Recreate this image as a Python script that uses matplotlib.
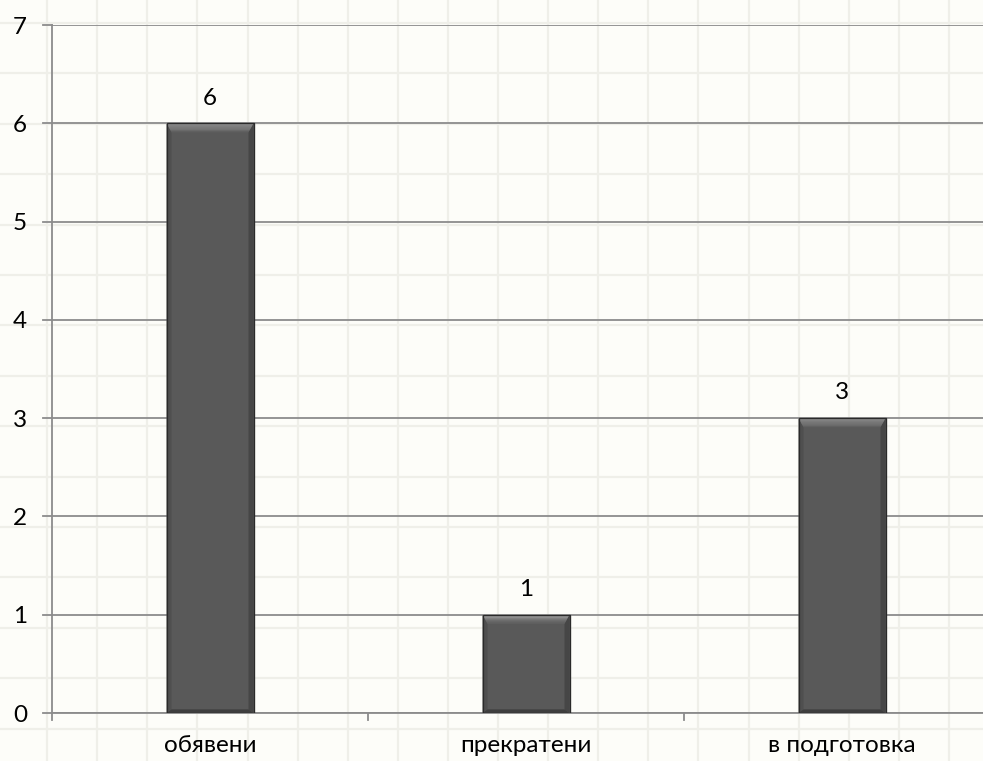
import matplotlib
matplotlib.use("Agg")
import matplotlib.pyplot as plt
from matplotlib.patches import Polygon, Rectangle
from matplotlib.lines import Line2D
import numpy as np

categories = ["обявени", "прекратени", "в подготовка"]
values = [6, 1, 3]
yticks = [0, 1, 2, 3, 4, 5, 6, 7]

W, H = 983, 761
DPI = 100
plt.rcParams['font.family'] = ['Lato', 'DejaVu Sans']

fig = plt.figure(figsize=(W / DPI, H / DPI), dpi=DPI, facecolor="#fdfdf9")

# paper-like background grid (figure pixel coords)
for x in np.arange(-3, W + 50, 50.1):
    fig.add_artist(Line2D([x / W, x / W], [0, 1], transform=fig.transFigure,
                          color="#efefe9", lw=1.6, zorder=0))
for y in np.arange(23, H + 50, 50.4):
    fig.add_artist(Line2D([0, 1], [1 - y / H, 1 - y / H], transform=fig.transFigure,
                          color="#efefe9", lw=1.6, zorder=0))

left_px, right_px, top_px, bot_px = 52, 1000, 25, 713
ax = fig.add_axes([left_px / W, 1 - bot_px / H, (right_px - left_px) / W, (bot_px - top_px) / H])
ax.patch.set_alpha(0)
ax.set_xlim(-0.5, len(categories) - 0.5)
ax.set_ylim(0, 7)

px_x = (len(categories)) / (right_px - left_px)   # data units per pixel (x)
px_y = 7 / (bot_px - top_px)                     # data units per pixel (y)

FS = 17.5
width = 87 * px_x
xs = np.arange(len(categories))
bars = ax.bar(xs, values, width=width, color="#595959", edgecolor="#2e2e2e",
              linewidth=0.8, zorder=3)

# bevel decorations
for b in bars:
    x0, w, h = b.get_x(), b.get_width(), b.get_height()
    x1 = x0 + w
    bt = 9 * px_y
    bs = 5 * px_x
    ax.add_patch(Polygon([[x0, 0], [x0 + bs, bt * 0.4], [x0 + bs, h - bt], [x0, h]],
                         closed=True, color="#4f4f4f", lw=0, zorder=4))
    ax.add_patch(Polygon([[x1, 0], [x1 - bs, bt * 0.4], [x1 - bs, h - bt], [x1, h]],
                         closed=True, color="#464646", lw=0, zorder=4))
    ax.add_patch(Polygon([[x0, 0], [x1, 0], [x1 - bs, bt * 0.4], [x0 + bs, bt * 0.4]],
                         closed=True, color="#3e3e3e", lw=0, zorder=4))
    n = 8
    for i in range(n):
        f0, f1 = i / n, (i + 1) / n
        ya, yb = h - f0 * bt, h - f1 * bt
        xa0, xb0 = x0 + f0 * bs, x0 + f1 * bs
        xa1, xb1 = x1 - f0 * bs, x1 - f1 * bs
        c = 0.62 - 0.27 * f0
        ax.add_patch(Polygon([[xa0, ya], [xa1, ya], [xb1, yb], [xb0, yb]], closed=True,
                             color=(c, c, c), lw=0, zorder=4))
    ax.add_patch(Rectangle((x0, 0), w, h, fill=False, edgecolor="#2a2a2a", lw=0.9, zorder=5))
    ax.text(b.get_x() + w / 2, h + 0.15, f"{h:g}", ha="center", va="bottom",
            fontsize=FS, color="#000000", zorder=6)

ax.set_yticks(yticks)
ax.set_yticklabels([str(t) for t in yticks], fontsize=FS)
ax.yaxis.grid(True, color="#8c8c8c", lw=1.3, zorder=1)
ax.set_axisbelow(True)
ax.tick_params(axis="y", length=0, pad=18, colors="#000000")
for t in yticks:
    ax.plot([-0.5 - 9 * px_x, -0.5], [t, t], color="#8c8c8c", lw=1.3, clip_on=False, zorder=1)

ax.set_xticks(xs)
ax.set_xticklabels(categories, fontsize=FS)
ax.tick_params(axis="x", length=0, pad=16, colors="#000000")
for k in range(len(categories)):
    xb = k - 0.5
    ax.plot([xb, xb], [0, -7 * px_y], color="#8c8c8c", lw=1.3, clip_on=False, zorder=1)

for s in ["top", "right"]:
    ax.spines[s].set_visible(False)
ax.spines["left"].set_color("#8c8c8c")
ax.spines["left"].set_linewidth(1.3)
ax.spines["bottom"].set_color("#8c8c8c")
ax.spines["bottom"].set_linewidth(1.3)

fig.savefig("out.png", dpi=DPI, facecolor=fig.get_facecolor())
